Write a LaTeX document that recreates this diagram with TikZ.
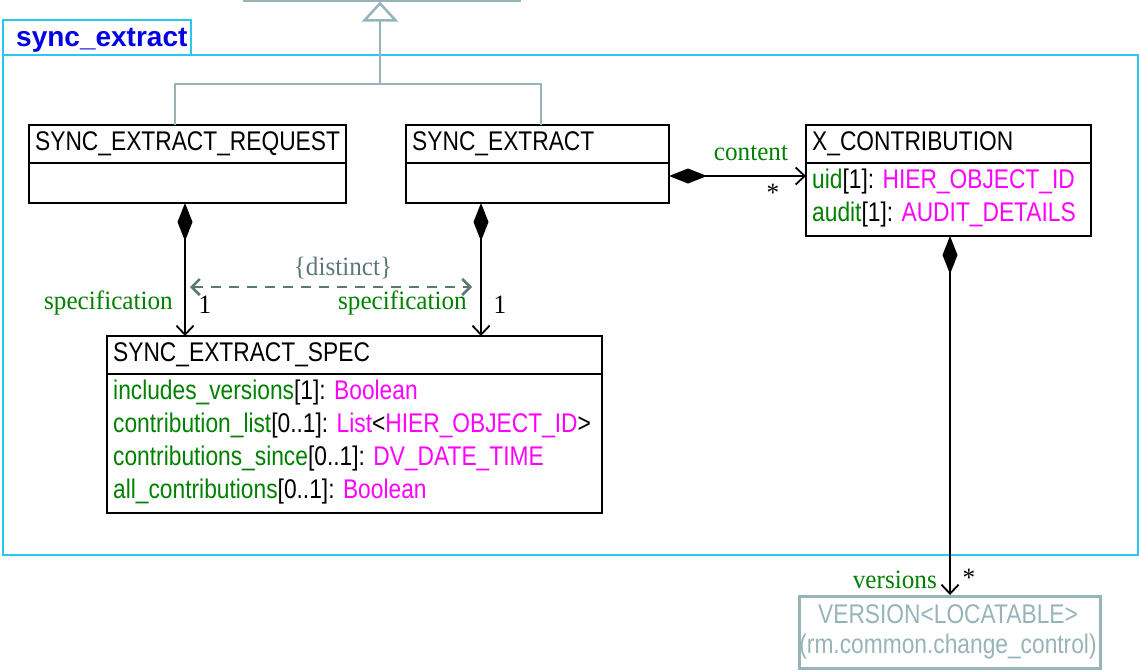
\documentclass[tikz,border=0pt]{standalone}
\usepackage{fontspec}
\usetikzlibrary{arrows.meta}
\newfontfamily\umlsans[FakeStretch=0.843]{Liberation Sans}
\newfontfamily\umlsansb[FakeStretch=1.0]{Liberation Sans Bold}
\newfontfamily\umlserif[FakeStretch=0.95]{Liberation Serif}
\definecolor{pkg}{RGB}{40,200,240}
\definecolor{genc}{RGB}{150,180,185}
\definecolor{attr}{RGB}{0,128,0}
\definecolor{typ}{RGB}{255,0,255}
\definecolor{cons}{RGB}{90,120,120}
\definecolor{pkgtxt}{RGB}{0,0,230}
\newcommand\attrn[1]{\textcolor{attr}{#1}}
\newcommand\typn[1]{\textcolor{typ}{#1}}
\tikzset{
  cls/.style={draw=black, line width=1.5pt, anchor=north west, inner sep=0pt, outer sep=0pt},
  txt/.style={anchor=base west, inner sep=0pt, font=\umlsans\fontsize{27}{30}\selectfont},
  lbl/.style={inner sep=0pt, font=\umlserif\fontsize{26.5}{29}\selectfont},
  comp/.style={line width=1.8pt, {Diamond[length=38pt,width=15pt]}-{Straight Barb[length=9pt,width=17pt]}},
  genl/.style={draw=genc, line width=2.5pt},
  cstr/.style={draw=cons, line width=2.5pt, dash pattern=on 10pt off 8pt, {Straight Barb[length=8pt,width=16pt]}-{Straight Barb[length=8pt,width=16pt]}},
}
\begin{document}
\begin{tikzpicture}[x=1pt,y=-1pt]
\useasboundingbox (0,0) rectangle (1139,670);
% package frame
\node[draw=pkg, line width=2pt, anchor=north west, inner sep=0pt, minimum width=1135pt, minimum height=500pt] (pkgframe) at (2,54) {};
\node[draw=pkg, line width=2pt, anchor=north west, inner sep=0pt, minimum width=188pt, minimum height=35pt] (pkgtab) at (2,19) {};
\node[anchor=base west, inner sep=0pt, text=pkgtxt, font=\umlsansb\fontsize{28}{30}\selectfont] (pkgname) at (16,46) {sync\_extract};
% parent class (cropped)
\coordinate (pl) at (243,0.8);
\coordinate (pr) at (521,0.8);
\draw[genl] (pl) -- (pr);
% classes
\node[cls, minimum width=317pt, minimum height=78pt] (req) at (29,125) {};
\draw[line width=1.5pt] ([yshift=-38pt]req.north west) -- ([yshift=-38pt]req.north east);
\node[txt] (reqn) at (35,150) {SYNC\_EXTRACT\_REQUEST};

\node[cls, minimum width=263pt, minimum height=78pt] (ext) at (406,125) {};
\draw[line width=1.5pt] ([yshift=-38pt]ext.north west) -- ([yshift=-38pt]ext.north east);
\node[txt] (extn) at (412,150) {SYNC\_EXTRACT};

\node[cls, minimum width=285pt, minimum height=111pt] (xc) at (806,125) {};
\draw[line width=1.5pt] ([yshift=-38pt]xc.north west) -- ([yshift=-38pt]xc.north east);
\node[txt] (xcn) at (812,150) {X\_CONTRIBUTION};
\node[txt] (xca1) at (812,188) {\attrn{uid}[1]: \typn{HIER\_OBJECT\_ID}};
\node[txt] (xca2) at (812,221) {\attrn{audit}[1]: \typn{AUDIT\_DETAILS}};

\node[cls, minimum width=495pt, minimum height=177pt] (spec) at (107,336) {};
\draw[line width=1.5pt] ([yshift=-38pt]spec.north west) -- ([yshift=-38pt]spec.north east);
\node[txt] (specn) at (113,361) {SYNC\_EXTRACT\_SPEC};
\node[txt] (speca1) at (113,399) {\attrn{includes\_versions}[1]: \typn{Boolean}};
\node[txt] (speca2) at (113,432) {\attrn{contribution\_list}[0..1]: \typn{List}<\typn{HIER\_OBJECT\_ID}>};
\node[txt] (speca3) at (113,465) {\attrn{contributions\_since}[0..1]: \typn{DV\_DATE\_TIME}};
\node[txt] (speca4) at (113,498) {\attrn{all\_contributions}[0..1]: \typn{Boolean}};

\node[draw=genc, line width=2.5pt, anchor=north west, inner sep=0pt, minimum width=301pt, minimum height=72pt] (ver) at (798,595) {};
\node[anchor=center, inner sep=0pt, text=genc, font=\umlsans\fontsize{27}{30}\selectfont] (vern1) at (948,614) {VERSION<LOCATABLE>};
\node[anchor=center, inner sep=0pt, text=genc, font=\umlsans\fontsize{27}{30}\selectfont] (vern2) at (948,647) {(rm.common.change\_control)};

% generalization
\coordinate (parent) at (380,1.5);
\coordinate (gj) at (380,84);
\draw[genl] ([xshift=146pt]req.north west) |- (gj);
\draw[genl] ([xshift=135pt]ext.north west) |- (gj);
\draw[genl, -{Triangle[open,length=20pt,width=36pt]}] (gj) -- (parent);

% compositions
\draw[comp] ([xshift=156pt]req.south west) -- ([xshift=78pt]spec.north west);
\draw[comp] ([xshift=75pt]ext.south west) -- ([xshift=374pt]spec.north west);
\draw[comp] ([yshift=-51pt]ext.north east) -- ([yshift=-51pt]xc.north west);
\draw[comp] ([xshift=144pt]xc.south west) -- ([xshift=152pt]ver.north west);

% constraint
\coordinate (d1) at (190,287);
\coordinate (d2) at (472,287);
\draw[cstr] (d1) -- (d2);
\node[lbl, text=cons] (distinct) at (343,268) {\{distinct\}};

% labels
\node[lbl, text=attr, anchor=east] (spec1) at (173,303) {specification};
\node[lbl, anchor=center] (m1) at (205,305) {1};
\node[lbl, text=attr, anchor=east] (spec2) at (467,303) {specification};
\node[lbl, anchor=center] (m2) at (500,305) {1};
\node[lbl, text=attr] (content) at (751,153) {content};
\node[lbl, anchor=center] (m3) at (773,193) {*};
\node[lbl, text=attr, anchor=east] (versions) at (937,580) {versions};
\node[lbl, anchor=center] (m4) at (969,578) {*};
\end{tikzpicture}
\end{document}
